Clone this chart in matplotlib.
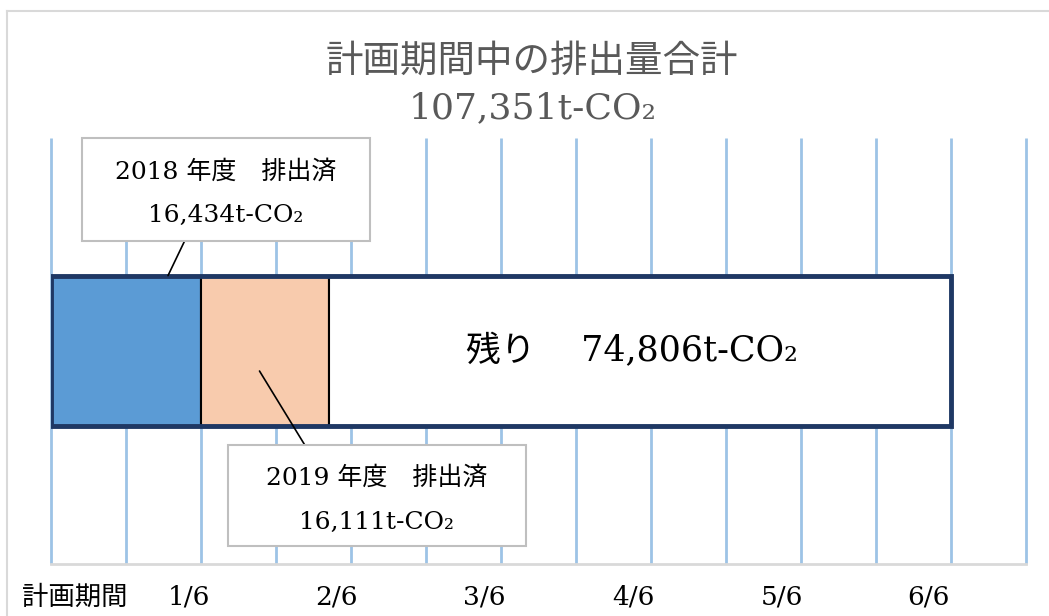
import numpy as np
import matplotlib.pyplot as plt
from matplotlib.patches import Rectangle

# 計画期間中の排出量 (t-CO2)
total = 107351
years = ['2018', '2019']
emitted = [16434, 16111]
remain = 74806

# 棒の各区間の幅 (計画期間の1/6単位, 図から読み取り)
seg_widths = [1.0, 0.853, 4.147]
seg_colors = ['#5B9BD5', '#F8CBAD', '#FFFFFF']

tick_pos = [0.16, 0.92, 1.90, 2.89, 3.88, 4.87, 5.85]
tick_labels = ['計画期間', '1/6', '2/6', '3/6', '4/6', '5/6', '6/6']

FONT = ['DejaVu Serif', 'Noto Sans CJK JP']
plt.rcParams['font.family'] = FONT

W, H = 1049, 616
fig = plt.figure(figsize=(W / 100, H / 100), dpi=100)

def fx(px):
    return px / W

def fy(py):
    return 1 - py / H

# 外枠
fig.add_artist(plt.Line2D([fx(7), fx(7)], [fy(11), 0], color='#D9D9D9', lw=1.5))
fig.add_artist(plt.Line2D([fx(7), 1], [fy(11), fy(11)], color='#D9D9D9', lw=1.5))

ax = fig.add_axes([fx(51), fy(564), 975 / W, 426 / H])
ax.set_xlim(0, 6.5)
ax.set_ylim(0, 1)
for s in ['top', 'right', 'left']:
    ax.spines[s].set_visible(False)
ax.spines['bottom'].set_color('#D9D9D9')
ax.spines['bottom'].set_linewidth(2)
ax.set_yticks([])

grid_x = np.arange(0, 6.51, 0.5)
ax.vlines(grid_x, 0, 1, color='#9DC3E6', lw=2, clip_on=False, zorder=0)

ax.set_xticks(tick_pos)
ax.set_xticklabels(tick_labels, fontsize=19)
ax.tick_params(axis='x', length=0, pad=15)

# 積み上げ棒
bar_h = 0.354
lefts = np.concatenate([[0], np.cumsum(seg_widths)[:-1]])
ax.barh(0.5, seg_widths, left=lefts, height=bar_h, color=seg_colors,
        edgecolor='black', lw=1.5, zorder=2)
ax.add_patch(Rectangle((0, 0.5 - bar_h / 2), sum(seg_widths), bar_h, fill=False,
                       ec='#1F3864', lw=3.5, zorder=3))

ax.text(lefts[2] + seg_widths[2] / 2 - 0.05, 0.5, f'残り　 {remain:,}t-CO₂',
        fontsize=25, ha='center', va='center', zorder=4)

# タイトル
fig.text(fx(532), fy(62), '計画期間中の排出量合計', fontsize=27, color='#595959',
         ha='center', va='center')
fig.text(fx(533), fy(108), f'{total:,}t-CO₂', fontsize=26, color='#595959',
         ha='center', va='center')

# 吹き出し
boxes = [(82, 138, 370, 241), (228, 445, 526, 546)]
line_y = [(172, 215), (478, 522)]
leaders = [((187, 236), (0.78, 0.5 + bar_h / 2)), ((306, 447), (1.39, 0.453))]
for i in range(2):
    x0, y0, x1, y1 = boxes[i]
    fig.add_artist(Rectangle((fx(x0), fy(y1)), fx(x1 - x0), (y1 - y0) / H,
                             fc='white', ec='#BFBFBF', lw=1.5, zorder=5))
    cx = fx((x0 + x1) / 2)
    fig.text(cx, fy(line_y[i][0]), f'{years[i]} 年度　排出済', fontsize=18,
             ha='center', va='center', zorder=6)
    fig.text(cx, fy(line_y[i][1]), f'{emitted[i]:,}t-CO₂', fontsize=18,
             ha='center', va='center', zorder=6)
    (px, py), xy = leaders[i]
    ax.annotate('', xy=xy, xycoords='data', xytext=(fx(px), fy(py)),
                textcoords='figure fraction',
                arrowprops=dict(arrowstyle='-', color='black', lw=1.2,
                                shrinkA=0, shrinkB=0), zorder=4)

fig.savefig('out.png', dpi=100)
